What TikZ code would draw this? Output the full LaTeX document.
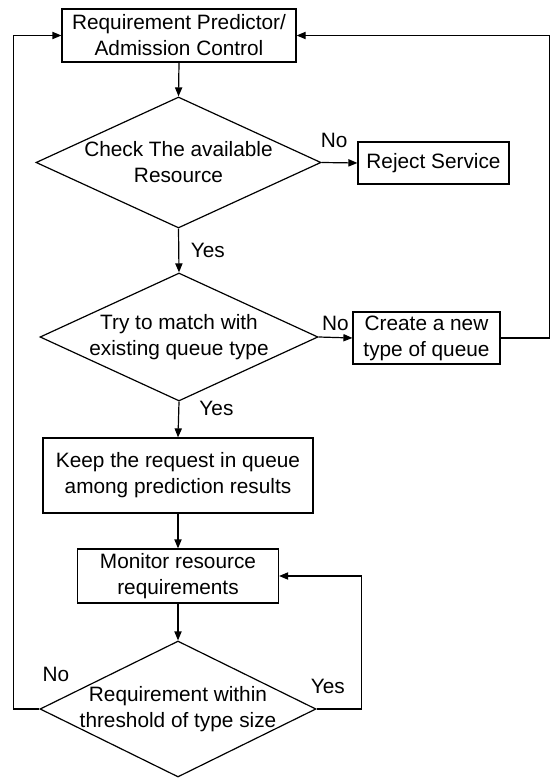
\documentclass[tikz,border=0pt]{standalone}
\usepackage{fontspec}
\setmainfont{Liberation Sans}
\usetikzlibrary{shapes.geometric,arrows.meta}

\begin{document}
\begin{tikzpicture}[x=0.5pt, y=-0.5pt, line width=0.6pt,
    >={Triangle[length=4.5pt,width=3.6pt]},
    every node/.style={font=\fontsize{10.4}{13}\selectfont},
    box/.style={draw, align=center, inner sep=0pt},
    decision/.style={draw, diamond, inner sep=0pt}]
    \useasboundingbox (0,0) rectangle (551,779);

    % Admission control
    \node[box, minimum width=117pt, minimum height=26.5pt] (req) at (179,35.5)
        {Requirement Predictor/\\Admission Control};

    % Resource check
    \node[decision, minimum width=142.5pt, minimum height=65.5pt,
        label={[align=center]center:Check The available\\Resource}] (check) at (178.5,162.5) {};
    \node[box, minimum width=75.5pt, minimum height=21pt] (reject) at (433.5,163) {Reject Service};

    % Queue matching
    \node[decision, minimum width=139pt, minimum height=64pt,
        label={[align=center]center:Try to match with\\existing queue type}] (match) at (179,337) {};
    \node[box, minimum width=73.5pt, minimum height=26pt] (create) at (426.5,338)
        {Create a new\\type of queue};

    % Queue and monitoring
    \node[box, minimum width=135pt, minimum height=37.5pt] (keep) at (178,475.5)
        {Keep the request in queue\\among prediction results};
    \node[box, minimum width=100.5pt, minimum height=27pt] (monitor) at (178,576)
        {Monitor resource\\requirements};

    % Threshold check
    \node[decision, minimum width=138pt, minimum height=68pt,
        label={[align=center]center:Requirement within\\threshold of type size}] (within) at (178,709) {};

    % Arrows
    \draw[->] (req.south) -- (check.north);
    \draw[->] (check.east) -- node[pos=0.35, above=4pt] {No} (reject.west);
    \draw[->] (check.south) -- node[right=2.4pt] {Yes} (match.north);
    \draw[->] (match.east) -- node[above] {No} (create.west);
    \draw[->] (create.east) -- ++(49,0) |- (req.east);
    \draw[->] (match.south) -- node[pos=0.2, right=6.7pt] {Yes} (keep.north);
    \draw[->] (keep.south) -- (monitor.north);
    \draw[->] (monitor.south) -- (within.north);
    \draw[->] (within.east) -- node[pos=0.25, above=4pt] {Yes} ++(45,0) |- (monitor.east);
    \draw[->] (within.west) node[xshift=8.25pt, yshift=17.5pt] {No} -- ++(-26,0) |- (req.west);
\end{tikzpicture}
\end{document}
